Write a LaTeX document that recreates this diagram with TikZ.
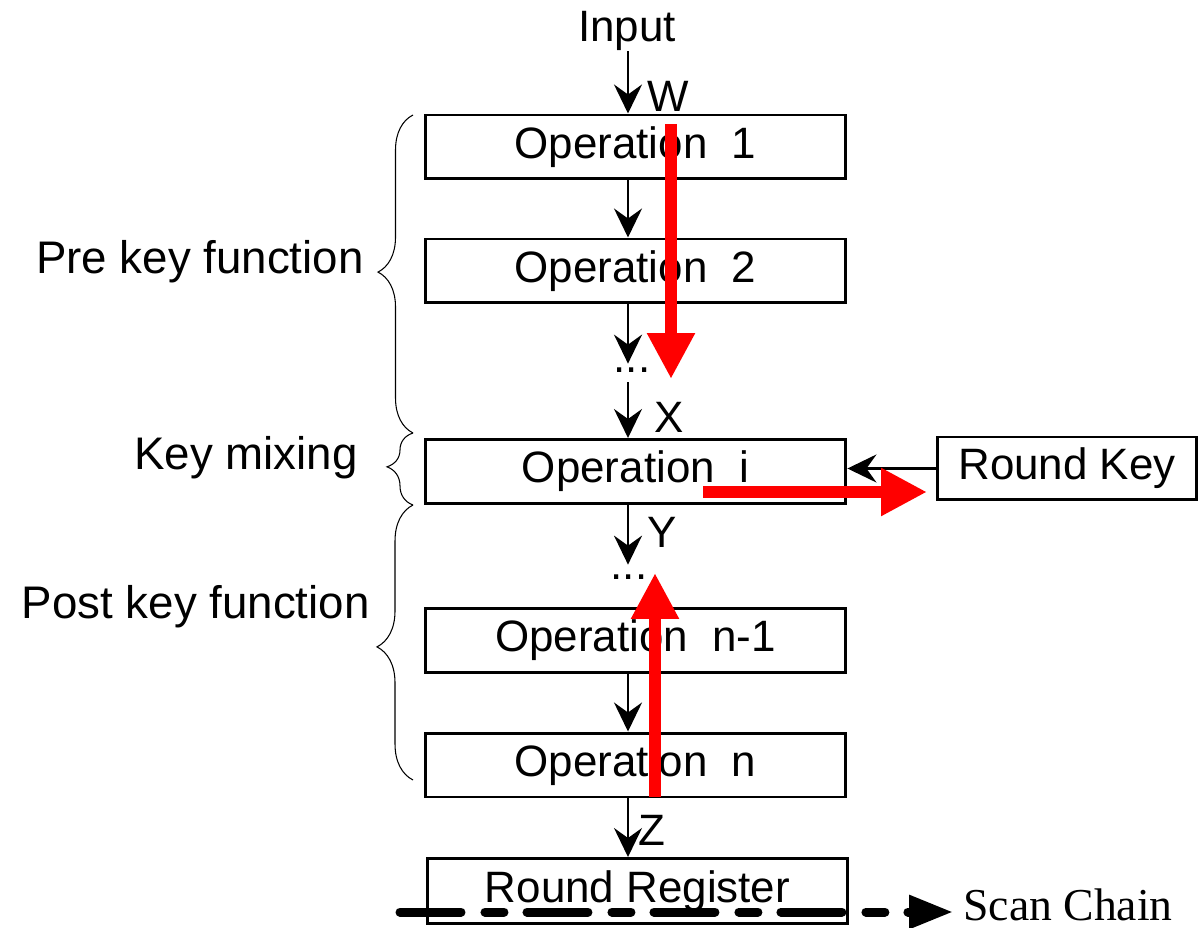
\documentclass[tikz,border=0pt]{standalone}
\usepackage{fontspec}
\setmainfont{Liberation Sans}
\newfontfamily\serifface{Liberation Serif}
\usetikzlibrary{arrows.meta,decorations.pathreplacing,calc}

\begin{document}
\begin{tikzpicture}[x=0.02cm,y=-0.02cm,
  txt/.style={font=\fontsize{25}{30}\selectfont},
  opbox/.style={txt, draw, line width=1.7pt, minimum width=8.42cm,
    minimum height=1.28cm, inner sep=0pt},
  lbl/.style={txt, inner sep=0pt},
  side/.style={inner sep=0pt, anchor=east, font=\fontsize{26}{30}\selectfont},
  dotsnode/.style={txt, inner sep=0pt, text height=0pt, text depth=0pt},
  flow/.style={line width=1.4pt, -{Stealth[length=0.58cm,width=0.56cm,inset=0.2cm]}},
  grp/.style 2 args={decorate, decoration={brace, amplitude=#1, aspect=#2},
    line width=0.6pt},
  hint/.style={red, line width=0.24cm, -{Triangle[length=0.92cm,width=0.9cm]}},
  scan/.style={line width=0.18cm, line cap=round,
    dash pattern=on 1.22cm off 0.48cm on 0.38cm off 0.46cm,
    -{Triangle[length=0.88cm,width=0.64cm]}}]

\useasboundingbox (0,0) rectangle (1200,928);

% vertical axis of the data path
\coordinate (axis) at (628,0);

% operation chain
\node[lbl] (input) at (627,31) {Input};
\node[opbox] (op1)  at (635.5,147) {Operation\ \ 1};
\node[opbox] (op2)  at (635.5,271) {Operation\ \ 2};
\node[dotsnode, minimum height=0.36cm] (dots1) at (632,373) {...};
\node[opbox] (opi)  at (635.5,471.5) {Operation\ \ i};
\node[dotsnode, minimum height=0.6cm] (dots2) at (629,580) {...};
\node[opbox] (opn1) at (635.5,640.5) {Operation\ \ n-1};
\node[opbox] (opn)  at (635.5,765) {Operation\ \ n};
\node[opbox, minimum height=1.3cm] (reg) at (637.5,891) {Round Register};
\node[txt, draw, line width=1.7pt, minimum width=5.2cm, minimum height=1.26cm,
  inner sep=0pt] (rk) at (1067,468.5) {Round Key};

% signal names
\node[lbl] (w) at (668,96) {W};
\node[lbl] (x) at (669,417) {X};
\node[lbl] (y) at (662,532) {Y};
\node[lbl] (z) at (652,830) {Z};

% data flow
\draw[flow] (input.south -| axis) -- (op1.north -| axis);
\draw[flow] (op1.south -| axis) -- (op2.north -| axis);
\draw[flow] (op2.south -| axis) -- (dots1.north -| axis);
\draw[flow] (dots1.south -| axis) -- (opi.north -| axis);
\draw[flow] (opi.south -| axis) -- (dots2.north -| axis);
\draw[flow] (opn1.south -| axis) -- (opn.north -| axis);
\draw[flow] (opn.south -| axis) -- (reg.north -| axis);
\draw[flow] (rk.west) -- (rk.west -| opi.east);

% grouping braces and their names
\node[side] (pre)  at (364,262) {Pre key function};
\node[side] (mix)  at (358,458) {Key mixing};
\node[side] (post) at (370,607) {Post key function};
\draw[grp={0.7cm}{0.506}] (413,433) -- (413,115);
\draw[grp={0.52cm}{0.53}] (413,505) -- (413,433);
\draw[grp={0.72cm}{0.484}] (413,780) -- (413,505);

% scan chain through the round register
\coordinate (sc0) at (400,912);
\node[inner sep=0pt, anchor=base west, font=\serifface\fontsize{26}{30}\selectfont]
  (scanlbl) at (963,920) {Scan Chain};
\draw[scan, shorten >=0.2cm] (sc0) -- (scanlbl.west |- sc0);

% highlighted paths
\coordinate (r1s) at (671,124);
\coordinate (r1e) at (671,379);
\coordinate (r2s) at (703,492);
\coordinate (r2e) at (927,492);
\coordinate (r3s) at (655,797);
\coordinate (r3e) at (655,573);
\draw[hint] (r1s) -- (r1e);
\draw[hint] (r2s) -- (r2e);
\draw[hint] (r3s) -- (r3e);
\end{tikzpicture}
\end{document}
